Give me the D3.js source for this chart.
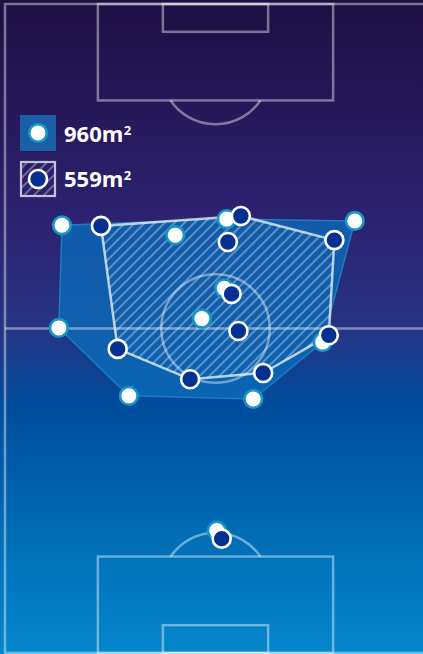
<!DOCTYPE html>
<html>
<head>
<meta charset="utf-8">
<script src="https://cdn.jsdelivr.net/npm/d3@7"></script>
<style>
  html, body { margin:0; padding:0; background:#1d0e43; }
  svg { display:block; }
</style>
</head>
<body>
<script>
var W = 423, H = 654;

// pitch in metres (x across, y along)
var pitchW = 68, pitchL = 105;

// player positions, metres
var teamAx = [9.2, 35.8, 27.5, 56.5, 35.4, 31.8, 8.7, 51.3, 20.0, 40.1, 34.2];
var teamAy = [35.8, 34.8, 37.4, 35.1, 46.0, 50.9, 52.4, 54.7, 63.4, 63.9, 85.2];
var teamBx = [15.5, 38.1, 36.0, 53.2, 36.6, 37.7, 52.3, 18.2, 29.9, 41.7, 35.0];
var teamBy = [35.9, 34.3, 38.5, 38.2, 46.9, 52.9, 53.6, 55.8, 60.7, 59.7, 86.5];

var areas = [960, 559];

var x = d3.scaleLinear().domain([0, pitchW]).range([5, 426]);
var y = d3.scaleLinear().domain([0, pitchL]).range([4, 653]);

var svg = d3.select("body").append("svg").attr("width", W).attr("height", H);
var defs = svg.append("defs");

var grad = defs.append("linearGradient").attr("id", "bg")
    .attr("x1", 0).attr("y1", 0).attr("x2", 0).attr("y2", 1);
[[0, "#1d0e43"], [0.33, "#2d2270"], [0.5, "#263484"], [0.62, "#004c9b"], [0.82, "#006db6"], [1, "#0487cc"]]
  .forEach(function(s) { grad.append("stop").attr("offset", s[0]).attr("stop-color", s[1]); });

var hatch = defs.append("pattern").attr("id", "hatch")
    .attr("patternUnits", "userSpaceOnUse").attr("width", 7).attr("height", 7)
    .attr("patternTransform", "rotate(45)");
hatch.append("rect").attr("width", 2).attr("height", 7).attr("fill", "rgba(255,255,255,0.32)");

svg.append("rect").attr("width", W).attr("height", H).attr("fill", "url(#bg)");

// hulls (outfield players only)
function pts(xs, ys) {
  return xs.slice(0, 10).map(function(v, i) { return [x(v), y(ys[i])]; });
}
var hullA = d3.polygonHull(pts(teamAx, teamAy));
var hullB = d3.polygonHull(pts(teamBx, teamBy));
var line = d3.line().curve(d3.curveLinearClosed);

svg.append("path").attr("d", line(hullA))
   .attr("fill", "#0a6cb8").attr("fill-opacity", 0.78)
   .attr("stroke", "#1a7cc6").attr("stroke-width", 1.5).attr("stroke-linejoin", "round");

svg.append("path").attr("d", line(hullB))
   .attr("fill", "url(#hatch)")
   .attr("stroke", "rgba(255,255,255,0.7)").attr("stroke-width", 2.5).attr("stroke-linejoin", "round");

// pitch markings
var lc = "rgba(255,255,255,0.42)", lw = 2.5;
var g = svg.append("g").attr("fill", "none").attr("stroke", lc).attr("stroke-width", lw);

g.append("rect").attr("x", x(0)).attr("y", y(0)).attr("width", x(pitchW) - x(0)).attr("height", y(pitchL) - y(0));
g.append("line").attr("x1", x(0)).attr("x2", x(pitchW)).attr("y1", y(pitchL / 2)).attr("y2", y(pitchL / 2));
g.append("circle").attr("cx", x(pitchW / 2)).attr("cy", y(pitchL / 2)).attr("r", x(8.75) - x(0));

var boxW = 38, boxD = 15.6, gaW = 17, gaD = 4.5, spot = 10.7, arcR = 8.75;
[0, 1].forEach(function(end) {
  var by = end ? y(pitchL - boxD) : y(0);
  g.append("rect").attr("x", x((pitchW - boxW) / 2)).attr("y", by)
    .attr("width", x(boxW) - x(0)).attr("height", y(boxD) - y(0));
  var gy = end ? y(pitchL - gaD) : y(0);
  g.append("rect").attr("x", x((pitchW - gaW) / 2)).attr("y", gy)
    .attr("width", x(gaW) - x(0)).attr("height", y(gaD) - y(0));
  var sy = end ? pitchL - spot : spot;
  var dy = boxD - spot, half = Math.acos(dy / arcR);
  var arc = d3.arc().innerRadius(x(arcR) - x(0)).outerRadius(x(arcR) - x(0))
    .startAngle(end ? -half : Math.PI - half).endAngle(end ? half : Math.PI + half);
  g.append("path").attr("d", arc()).attr("transform", "translate(" + x(pitchW / 2) + "," + y(sy) + ")");
});

// players
svg.selectAll(".pa").data(teamAx).enter().append("circle").attr("class", "pa")
   .attr("cx", function(d) { return x(d); })
   .attr("cy", function(d, i) { return y(teamAy[i]); })
   .attr("r", 8.8).attr("fill", "#ffffff").attr("stroke", "#1597c6").attr("stroke-width", 2.6);

svg.selectAll(".pb").data(teamBx).enter().append("circle").attr("class", "pb")
   .attr("cx", function(d) { return x(d); })
   .attr("cy", function(d, i) { return y(teamBy[i]); })
   .attr("r", 9).attr("fill", "#052f91").attr("stroke", "#ffffff").attr("stroke-width", 2.6);

// legend
var leg = svg.append("g");
leg.append("rect").attr("x", 20).attr("y", 115).attr("width", 36).attr("height", 36).attr("fill", "#1a5fa6");
leg.append("circle").attr("cx", 38).attr("cy", 133).attr("r", 8.8)
   .attr("fill", "#fff").attr("stroke", "#1597c6").attr("stroke-width", 2.6);
leg.append("rect").attr("x", 21).attr("y", 162).attr("width", 34).attr("height", 34)
   .attr("fill", "url(#hatch)").attr("stroke", "#c4c2dc").attr("stroke-width", 2.2);
leg.append("circle").attr("cx", 38).attr("cy", 179).attr("r", 9)
   .attr("fill", "#052f91").attr("stroke", "#fff").attr("stroke-width", 2.6);

[142, 187].forEach(function(ty, i) {
  var t = leg.append("text").attr("x", 64).attr("y", ty)
     .attr("fill", "#fff").style("font-family", "'Open Sans', sans-serif")
     .style("font-weight", 700).style("font-size", "22px");
  t.append("tspan").text(areas[i] + "m");
  t.append("tspan").attr("dy", -7.5).attr("dx", 0.5).style("font-size", "13px").text("2");
});
</script>
</body>
</html>
